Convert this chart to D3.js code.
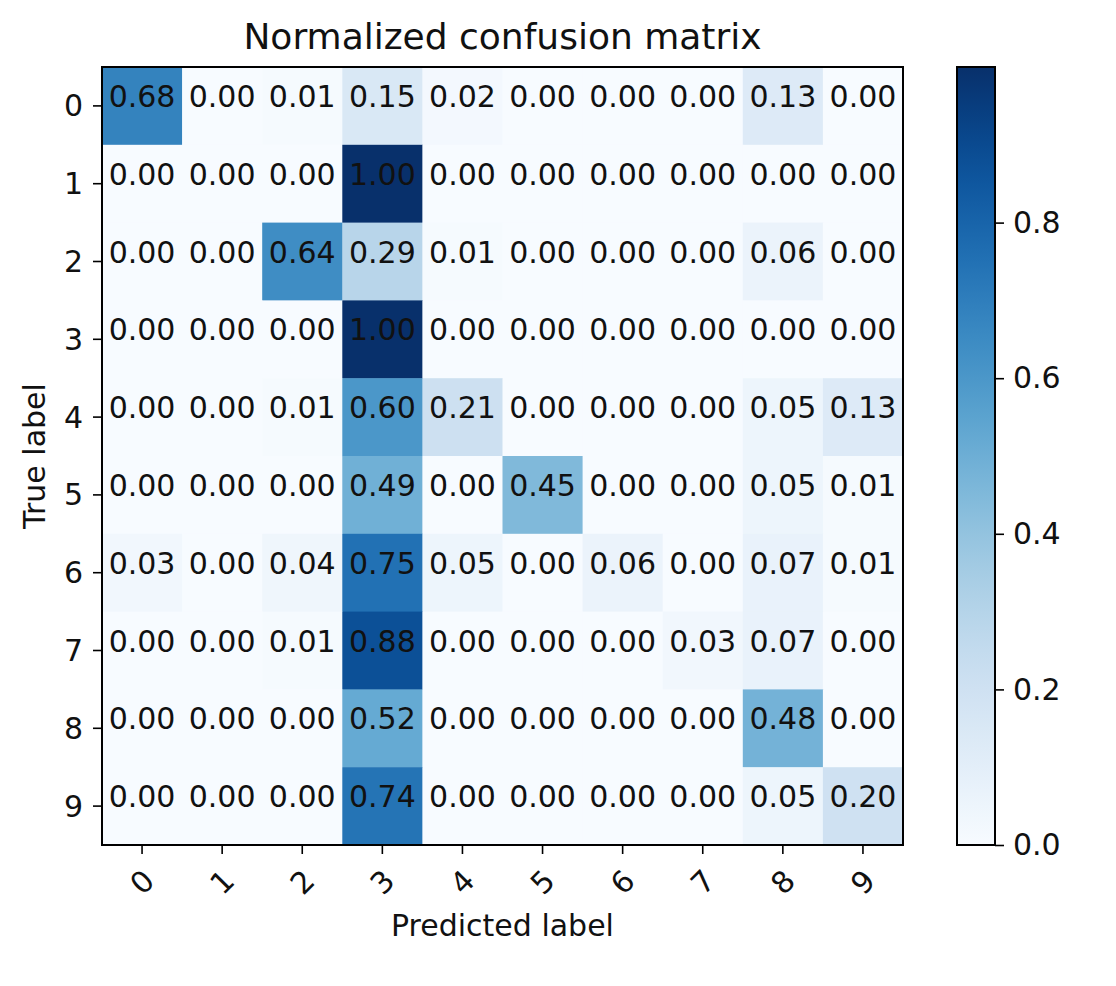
<!DOCTYPE html>
<html>
<head>
<meta charset="utf-8">
<script src="https://cdn.jsdelivr.net/npm/d3@7"></script>
<style>
  body { margin: 0; background: #fff; }
  svg text { font-family: "DejaVu Sans", sans-serif; fill: #111; }
</style>
</head>
<body>
<svg id="chart" width="1116" height="986"></svg>
<script>
const classes = ['0', '1', '2', '3', '4', '5', '6', '7', '8', '9'];

// rows = true label, columns = predicted label
const matrix = [
  [0.68, 0.00, 0.01, 0.15, 0.02, 0.00, 0.00, 0.00, 0.13, 0.00],
  [0.00, 0.00, 0.00, 1.00, 0.00, 0.00, 0.00, 0.00, 0.00, 0.00],
  [0.00, 0.00, 0.64, 0.29, 0.01, 0.00, 0.00, 0.00, 0.06, 0.00],
  [0.00, 0.00, 0.00, 1.00, 0.00, 0.00, 0.00, 0.00, 0.00, 0.00],
  [0.00, 0.00, 0.01, 0.60, 0.21, 0.00, 0.00, 0.00, 0.05, 0.13],
  [0.00, 0.00, 0.00, 0.49, 0.00, 0.45, 0.00, 0.00, 0.05, 0.01],
  [0.03, 0.00, 0.04, 0.75, 0.05, 0.00, 0.06, 0.00, 0.07, 0.01],
  [0.00, 0.00, 0.01, 0.88, 0.00, 0.00, 0.00, 0.03, 0.07, 0.00],
  [0.00, 0.00, 0.00, 0.52, 0.00, 0.00, 0.00, 0.00, 0.48, 0.00],
  [0.00, 0.00, 0.00, 0.74, 0.00, 0.00, 0.00, 0.00, 0.05, 0.20]
];

const colorbarTicks = [0.0, 0.2, 0.4, 0.6, 0.8];

const svg = d3.select('#chart');
const plotL = 102, plotT = 67, plotR = 903, plotB = 845;
const fontSize = '30px';

const x = d3.scaleBand().domain(classes).range([plotL, plotR]);
const y = d3.scaleBand().domain(classes).range([plotT, plotB]);
const color = d3.scaleSequential(d3.interpolateBlues).domain([0, 1]);

const cells = [];
matrix.forEach((row, i) => row.forEach((v, j) => cells.push({ row: classes[i], col: classes[j], v })));

svg.append('g')
  .selectAll('rect')
  .data(cells)
  .enter()
  .append('rect')
  .attr('x', (d) => x(d.col))
  .attr('y', (d) => y(d.row))
  .attr('width', x.bandwidth() + 0.5)
  .attr('height', y.bandwidth() + 0.5)
  .attr('fill', (d) => color(d.v));

svg.append('g')
  .selectAll('text')
  .data(cells)
  .enter()
  .append('text')
  .attr('x', (d) => x(d.col) + x.bandwidth() / 2)
  .attr('y', (d) => y(d.row) + y.bandwidth() / 2 + 1)
  .attr('text-anchor', 'middle')
  .style('font-size', fontSize)
  .text((d) => d.v.toFixed(2));

// frame
svg.append('rect')
  .attr('x', plotL).attr('y', plotT)
  .attr('width', plotR - plotL).attr('height', plotB - plotT)
  .attr('fill', 'none').attr('stroke', '#000').attr('stroke-width', 2);

// x axis
const xAxis = svg.append('g')
  .attr('transform', `translate(0,${plotB})`)
  .call(d3.axisBottom(x).tickSizeOuter(0).tickSize(9).tickPadding(6));
xAxis.select('.domain').remove();
xAxis.selectAll('line').attr('stroke', '#000').attr('stroke-width', 1.6);
xAxis.selectAll('text')
  .style('font-size', fontSize)
  .attr('text-anchor', 'middle')
  .attr('y', 0)
  .attr('dy', '0.35em')
  .attr('transform', 'translate(0,37) rotate(-45)');

// y axis
const yAxis = svg.append('g')
  .attr('transform', `translate(${plotL},0)`)
  .call(d3.axisLeft(y).tickSizeOuter(0).tickSize(9).tickPadding(10));
yAxis.select('.domain').remove();
yAxis.selectAll('line').attr('stroke', '#000').attr('stroke-width', 1.6);
yAxis.selectAll('text').style('font-size', fontSize).attr('dy', '0.35em');

svg.append('text')
  .attr('x', (plotL + plotR) / 2).attr('y', 49)
  .attr('text-anchor', 'middle')
  .style('font-size', '36px')
  .text('Normalized confusion matrix');

svg.append('text')
  .attr('x', (plotL + plotR) / 2).attr('y', 936)
  .attr('text-anchor', 'middle')
  .style('font-size', fontSize)
  .text('Predicted label');

svg.append('text')
  .attr('transform', `translate(45,${(plotT + plotB) / 2}) rotate(-90)`)
  .attr('text-anchor', 'middle')
  .style('font-size', fontSize)
  .text('True label');

// colorbar
const cbX = 957, cbW = 38;
const cbScale = d3.scaleLinear().domain([0, 1]).range([plotB, plotT]);
const defs = svg.append('defs');
const grad = defs.append('linearGradient')
  .attr('id', 'cbgrad').attr('x1', 0).attr('y1', 1).attr('x2', 0).attr('y2', 0);
d3.range(0, 1.0001, 0.05).forEach((t) => {
  grad.append('stop').attr('offset', t).attr('stop-color', color(t));
});
svg.append('rect')
  .attr('x', cbX).attr('y', plotT)
  .attr('width', cbW).attr('height', plotB - plotT)
  .attr('fill', 'url(#cbgrad)')
  .attr('stroke', '#000').attr('stroke-width', 2);

const cbAxis = svg.append('g')
  .attr('transform', `translate(${cbX + cbW},0)`)
  .call(d3.axisRight(cbScale).tickValues(colorbarTicks).tickFormat(d3.format('.1f')).tickSize(9).tickPadding(9));
cbAxis.select('.domain').remove();
cbAxis.selectAll('line').attr('stroke', '#000').attr('stroke-width', 1.6);
cbAxis.selectAll('text').style('font-size', fontSize);
</script>
</body>
</html>
